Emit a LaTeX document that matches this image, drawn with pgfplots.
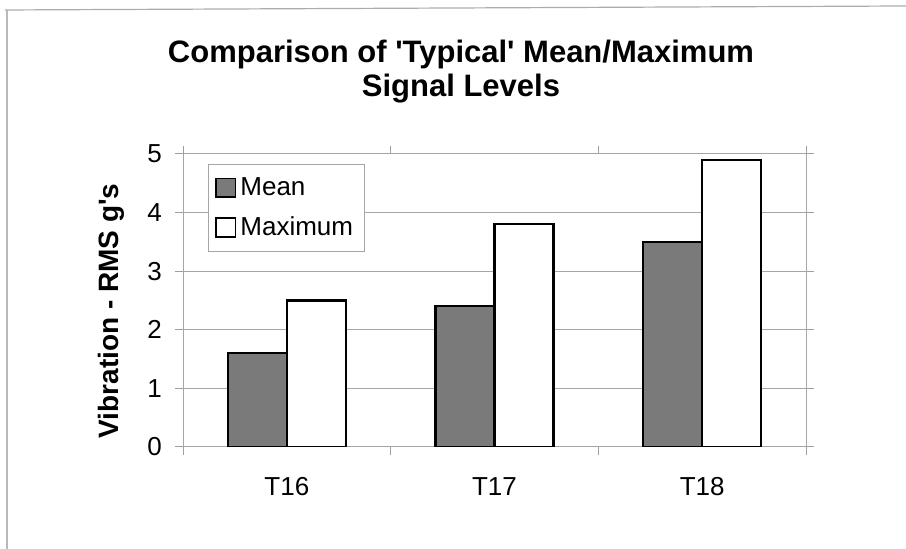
\documentclass[border=0pt]{standalone}
\usepackage{pgfplots}
\pgfplotsset{compat=1.18}
\usepackage{fontspec}
\setmainfont{Liberation Sans}[Ligatures=TeXOff]

% small square key for the legend
\pgfplotsset{sqlegend/.style={legend image code/.code={%
  \draw[##1,line width=0.9pt] (0pt,-4.7pt) rectangle (9.6pt,4.7pt);}}}

\begin{document}
\begin{tikzpicture}[x=0.5pt,y=0.5pt]
\useasboundingbox (0,0) rectangle (906,549);
% chart area frame
\draw[gray!65, line width=0.6pt] (5,539) -- (906,543);
\draw[gray!55, line width=0.6pt] (7,539) -- (7,0);

% title
\node[anchor=base, font=\fontsize{15.5}{18}\selectfont\bfseries] at (461,486)
  {Comparison of 'Typical' Mean/Maximum};
\node[anchor=base, font=\fontsize{15.5}{18}\selectfont\bfseries] at (461,452) {Signal Levels};

% y axis title
\node[rotate=90, font=\fontsize{14}{16}\selectfont\bfseries] at (111,238)
  {Vibration - RMS g's};

\begin{axis}[
  at={(91.5pt,51pt)}, anchor=south west,
  scale only axis, width=311.5pt, height=146.5pt,
  xmin=0, xmax=3, ymin=0, ymax=5,
  ybar=0pt, bar width=0.284,
  every axis plot post/.append style={sqlegend},
  ytick={0,1,2,3,4,5},
  xtick={0.5,1.5,2.5},
  xticklabels={T16,T17,T18},
  xtick style={draw=none},
  extra x ticks={0,1,2,3},
  extra x tick labels={},
  extra x tick style={xtick style={draw=gray!75, line width=0.5pt}, major tick length=4pt},
  tick align=outside,
  major tick length=4pt,
  ytick style={draw=gray!75, line width=0.5pt},
  ymajorgrids,
  grid style={gray!70, line width=0.5pt},
  axis line style={gray!70, line width=0.5pt},
  /pgf/number format/assume math mode=true,
  tick label style={font=\fontsize{13}{15}\selectfont},
  yticklabel style={xshift=-3pt},
  xticklabel style={anchor=base, yshift=-20.5pt},
  legend style={at={(0.04,0.966)}, anchor=north west,
    draw=gray!70, fill=white, line width=0.5pt,
    font=\fontsize{13}{15}\selectfont,
    inner xsep=3.5pt, inner ysep=4.5pt, row sep=5pt,
    /tikz/every even column/.append style={column sep=0pt}},
  legend cell align=left,
]
\addplot[fill=black!52, draw=black, line width=1.1pt]
  coordinates {(0.5,1.6) (1.5,2.4) (2.5,3.5)};
\addplot[fill=white, draw=black, line width=1.1pt]
  coordinates {(0.5,2.5) (1.5,3.8) (2.5,4.9)};
\legend{Mean, Maximum}
\end{axis}
\end{tikzpicture}
\end{document}
